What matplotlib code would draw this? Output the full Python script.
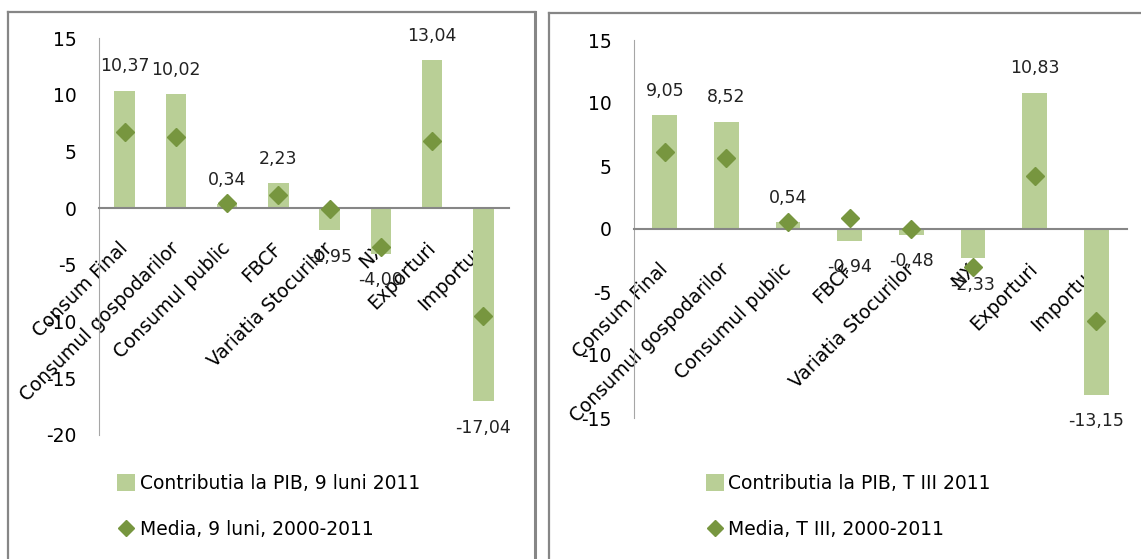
import numpy as np
import matplotlib
matplotlib.use('Agg')
import matplotlib.pyplot as plt
from matplotlib.patches import Patch
from matplotlib.lines import Line2D

plt.rcParams['font.family'] = 'DejaVu Sans'

categorii = ['Consum Final', 'Consumul gospodarilor', 'Consumul public', 'FBCF',
             'Variatia Stocurilor', 'NX', 'Exporturi', 'Importuri']

# panoul stang - 9 luni 2011
contrib_9l = [10.37, 10.02, 0.34, 2.23, -1.95, -4.00, 13.04, -17.04]
media_9l = [6.67, 6.23, 0.44, 1.17, -0.05, -3.45, 5.88, -9.5]

# panoul drept - T III 2011
contrib_t3 = [9.05, 8.52, 0.54, -0.94, -0.48, -2.33, 10.83, -13.15]
media_t3 = [6.13, 5.61, 0.58, 0.85, 0.03, -3.0, 4.23, -7.28]

leg_bar = ['Contributia la PIB, 9 luni 2011', 'Contributia la PIB, T III 2011']
leg_med = ['Media, 9 luni, 2000-2011', 'Media, T III, 2000-2011']

BAR = '#B9CF96'
DIA = '#77963F'
GRI = '#868686'

W, H = 1141, 559
fig = plt.figure(figsize=(W / 100, H / 100), dpi=100)


def px(x0, y_top, x1, y_bot):
    # pixel box -> figure fraction
    return [x0 / W, 1 - y_bot / H, (x1 - x0) / W, (y_bot - y_top) / H]


def panou(rect, bars, media, ylim, yt):
    ax = fig.add_axes(rect)
    x = np.arange(len(categorii))
    ax.bar(x, bars, width=0.4, color=BAR, zorder=2)
    ax.plot(x, media, linestyle='none', marker='D', markersize=9.5,
            color=DIA, zorder=3)
    for xi, v in zip(x, bars):
        off = 17.5 if v >= 0 else -19
        ax.annotate(f'{v:.2f}'.replace('.', ','), (xi, v), xytext=(0, off),
                    textcoords='offset points', ha='center', va='center',
                    fontsize=12.5, color='#222222', zorder=4)
    ax.set_xlim(-0.5, len(categorii) - 0.5)
    ax.set_ylim(*ylim)
    ax.set_yticks(yt)
    ax.set_yticklabels([str(t) for t in yt], fontsize=13.5)
    ax.spines['bottom'].set_position(('data', 0))
    ax.spines['bottom'].set_color(GRI)
    ax.spines['bottom'].set_linewidth(1.5)
    ax.spines['left'].set_color('#A6A6A6')
    ax.spines['left'].set_linewidth(0.8)
    ax.spines['top'].set_visible(False)
    ax.spines['right'].set_visible(False)
    ax.set_xticks(x)
    ax.set_xticklabels(categorii, rotation=45, ha='right', va='center',
                       rotation_mode='anchor', fontsize=13.5)
    ax.tick_params(axis='x', length=0, pad=27)
    ax.tick_params(axis='y', length=0, pad=16)
    ax.patch.set_visible(False)
    return ax


ax1 = panou(px(99, 38, 509, 435), contrib_9l, media_9l, (-20, 15),
            [-20, -15, -10, -5, 0, 5, 10, 15])
ax2 = panou(px(634, 40, 1127, 418), contrib_t3, media_t3, (-15, 15),
            [-15, -10, -5, 0, 5, 10, 15])

for i, lx in enumerate([117, 706]):
    handles = [Patch(facecolor=BAR, edgecolor='none'),
               Line2D([], [], linestyle='none', marker='D', markersize=8.5,
                      color=DIA)]
    fig.legend(handles, [leg_bar[i], leg_med[i]], loc='upper left',
               bbox_to_anchor=(lx / W, 1 - 474 / H), frameon=False,
               borderpad=0, borderaxespad=0, handlelength=0.95,
               handleheight=0.95, handletextpad=0.25, labelspacing=1.45,
               fontsize=13.5)

# chenarele celor doua grafice
def linie(xs, ys, lw):
    fig.add_artist(Line2D([v / W for v in xs], [1 - v / H for v in ys],
                          color=GRI, linewidth=lw, solid_capstyle='projecting'))

linie([7.5, 7.5], [12, 570], 1.6)
linie([7.5, 535], [12, 12], 1.6)
linie([535, 535], [12, 570], 2.2)
linie([549, 549], [13, 570], 1.6)
linie([549, 1150], [13, 13], 1.6)

fig.savefig('out.png', dpi=100)
